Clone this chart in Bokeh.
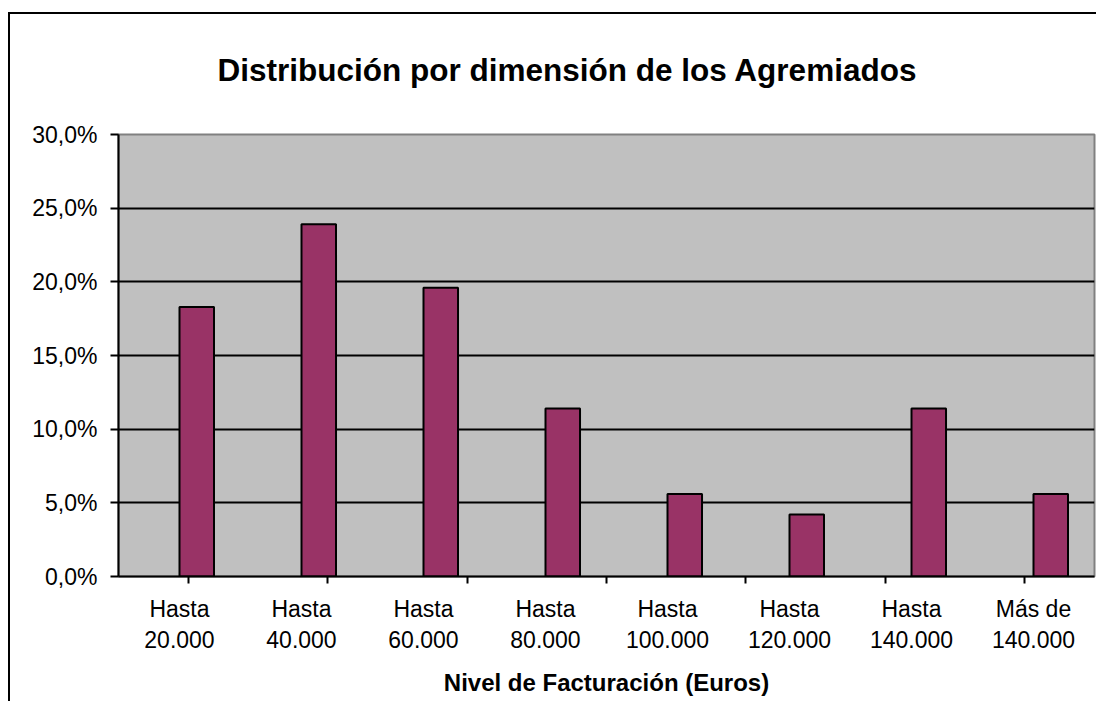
from bokeh.plotting import figure
from bokeh.models import (FactorRange, FixedTicker, Range1d, ColumnDataSource,
                          InlineStyleSheet, CategoricalAxis)
from bokeh.transform import dodge
from bokeh.embed import file_html
from bokeh.resources import INLINE

# ---- data ----
categories = ["Hasta\n20.000", "Hasta\n40.000", "Hasta\n60.000", "Hasta\n80.000",
              "Hasta\n100.000", "Hasta\n120.000", "Hasta\n140.000", "Más de\n140.000"]
shares = [18.3, 23.9, 19.6, 11.4, 5.6, 4.2, 11.4, 5.6]
y_ticks = [0, 5, 10, 15, 20, 25, 30]
y_tick_labels = ["0,0%", "5,0%", "10,0%", "15,0%", "20,0%", "25,0%", "30,0%"]
boundary_names = ["b%d" % i for i in range(len(categories) + 1)]
title_text = "Distribución por dimensión de los Agremiados"
x_title = "Nivel de Facturación (Euros)"

FONT = "Liberation Sans"

src = ColumnDataSource(dict(cat=categories, val=shares))

frame_css = InlineStyleSheet(css=(
    ":host { background:"
    " linear-gradient(#000,#000) 8px 12px / 2px 100% no-repeat,"
    " linear-gradient(#000,#000) 8px 12px / 100% 2px no-repeat,"
    " #fff; }"))

p = figure(x_range=FactorRange(*categories), y_range=Range1d(0, 30),
           width=1096, height=701, frame_width=976, frame_height=442,
           min_border_left=118, min_border_top=134, min_border_right=2, min_border_bottom=125,
           output_backend="svg", toolbar_location=None, x_axis_location=None,
           background_fill_color="#C0C0C0", border_fill_color=None,
           stylesheets=[frame_css])

# boundary range: one factor per category edge, trimmed by half a cell on each side
p.extra_x_ranges = {"bounds": FactorRange(*boundary_names, range_padding=-1,
                                          range_padding_units="absolute")}

p.vbar(x=dodge("cat", 0.1415, range=p.x_range), top="val", width=0.283, bottom=0,
       source=src, fill_color="#993366", line_color="black", line_width=2)

# title
p.title.text = title_text
p.title.text_font = FONT
p.title.text_font_size = "31.5px"
p.title.text_font_style = "bold"
p.title.align = "left"
p.title.offset = 99
p.title.standoff = 94
p.title.text_color = "black"

# outline
p.outline_line_color = "#808080"
p.outline_line_width = 2

# grid
p.xgrid.grid_line_color = None
p.ygrid.grid_line_color = "black"
p.ygrid.grid_line_width = 2
p.ygrid.ticker = FixedTicker(ticks=y_ticks[:-1])

# y axis
p.yaxis.ticker = FixedTicker(ticks=y_ticks)
p.yaxis.major_label_overrides = {t: l for t, l in zip(y_ticks, y_tick_labels)}
p.yaxis.major_label_text_font = FONT
p.yaxis.major_label_text_font_size = "23px"
p.yaxis.major_label_text_color = "black"
p.yaxis.axis_line_color = "black"
p.yaxis.axis_line_width = 2
p.yaxis.major_tick_line_color = "black"
p.yaxis.major_tick_line_width = 2
p.yaxis.major_tick_out = 8
p.yaxis.major_tick_in = 0
p.yaxis.minor_tick_line_color = None
p.yaxis.major_label_standoff = 13

# x axis with tick marks at category boundaries
tick_axis = CategoricalAxis(x_range_name="bounds",
                            major_label_text_font_size="1px", major_label_text_color=None,
                            major_label_standoff=0,
                            axis_line_color="black", axis_line_width=2,
                            major_tick_line_color="black", major_tick_line_width=2,
                            major_tick_out=7, major_tick_in=0, minor_tick_line_color=None)
p.add_layout(tick_axis, "below")

cat_axis = CategoricalAxis(axis_label=x_title,
                           axis_label_text_font=FONT, axis_label_text_font_size="24px",
                           axis_label_text_font_style="bold", axis_label_text_color="black",
                           axis_label_standoff=13,
                           major_label_text_font=FONT, major_label_text_font_size="23px",
                           major_label_text_color="black", major_label_standoff=6,
                           major_label_orientation="horizontal",
                           axis_line_color=None, major_tick_line_color=None,
                           minor_tick_line_color=None)
p.add_layout(cat_axis, "below")

open("out.html", "w").write(file_html(p, INLINE))
